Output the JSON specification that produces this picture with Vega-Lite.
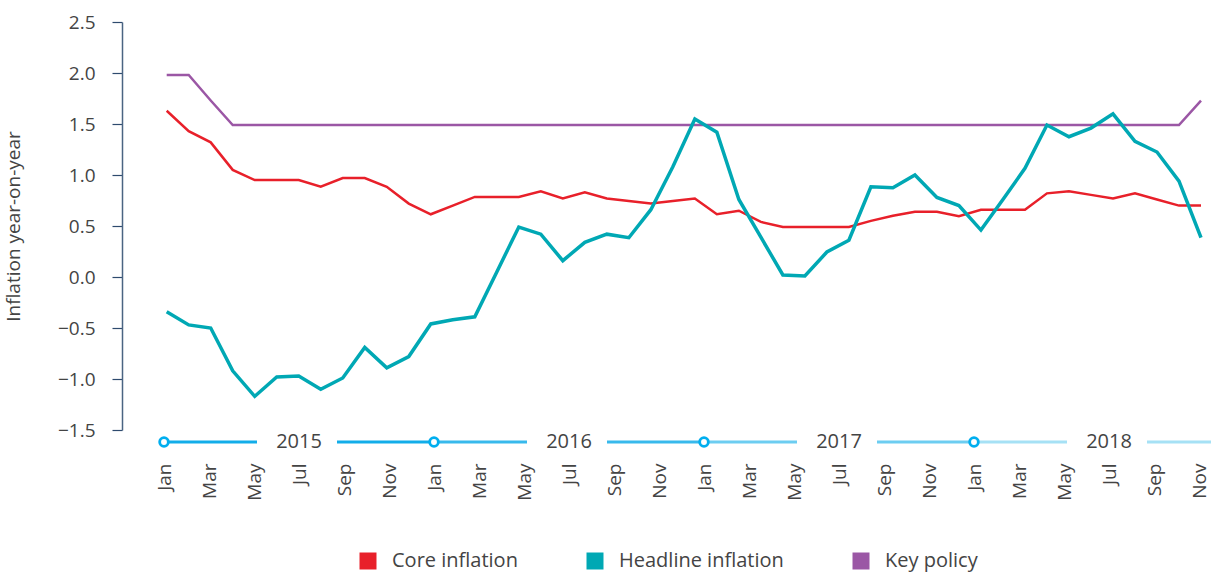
{
  "$schema": "https://vega.github.io/schema/vega-lite/v6.json",
  "width": 1089,
  "height": 408,
  "autosize": "none",
  "padding": {"left": 122, "top": 22, "right": 0, "bottom": 144},
  "config": {
    "view": {"stroke": null},
    "font": "Open Sans",
    "axis": {"grid": false}
  },
  "datasets": {
    "series": [
      {"month": "2015-01", "Core inflation": 1.63, "Headline inflation": -0.34, "Key policy": 1.98},
      {"month": "2015-02", "Core inflation": 1.43, "Headline inflation": -0.47, "Key policy": 1.98},
      {"month": "2015-03", "Core inflation": 1.32, "Headline inflation": -0.50, "Key policy": 1.73},
      {"month": "2015-04", "Core inflation": 1.05, "Headline inflation": -0.92, "Key policy": 1.49},
      {"month": "2015-05", "Core inflation": 0.95, "Headline inflation": -1.17, "Key policy": 1.49},
      {"month": "2015-06", "Core inflation": 0.95, "Headline inflation": -0.98, "Key policy": 1.49},
      {"month": "2015-07", "Core inflation": 0.95, "Headline inflation": -0.97, "Key policy": 1.49},
      {"month": "2015-08", "Core inflation": 0.885, "Headline inflation": -1.10, "Key policy": 1.49},
      {"month": "2015-09", "Core inflation": 0.97, "Headline inflation": -0.99, "Key policy": 1.49},
      {"month": "2015-10", "Core inflation": 0.97, "Headline inflation": -0.69, "Key policy": 1.49},
      {"month": "2015-11", "Core inflation": 0.885, "Headline inflation": -0.89, "Key policy": 1.49},
      {"month": "2015-12", "Core inflation": 0.72, "Headline inflation": -0.78, "Key policy": 1.49},
      {"month": "2016-01", "Core inflation": 0.615, "Headline inflation": -0.46, "Key policy": 1.49},
      {"month": "2016-02", "Core inflation": 0.70, "Headline inflation": -0.42, "Key policy": 1.49},
      {"month": "2016-03", "Core inflation": 0.785, "Headline inflation": -0.39, "Key policy": 1.49},
      {"month": "2016-04", "Core inflation": 0.785, "Headline inflation": 0.05, "Key policy": 1.49},
      {"month": "2016-05", "Core inflation": 0.785, "Headline inflation": 0.49, "Key policy": 1.49},
      {"month": "2016-06", "Core inflation": 0.84, "Headline inflation": 0.42, "Key policy": 1.49},
      {"month": "2016-07", "Core inflation": 0.77, "Headline inflation": 0.16, "Key policy": 1.49},
      {"month": "2016-08", "Core inflation": 0.83, "Headline inflation": 0.34, "Key policy": 1.49},
      {"month": "2016-09", "Core inflation": 0.77, "Headline inflation": 0.42, "Key policy": 1.49},
      {"month": "2016-10", "Core inflation": 0.745, "Headline inflation": 0.385, "Key policy": 1.49},
      {"month": "2016-11", "Core inflation": 0.72, "Headline inflation": 0.66, "Key policy": 1.49},
      {"month": "2016-12", "Core inflation": 0.745, "Headline inflation": 1.08, "Key policy": 1.49},
      {"month": "2017-01", "Core inflation": 0.77, "Headline inflation": 1.55, "Key policy": 1.49},
      {"month": "2017-02", "Core inflation": 0.615, "Headline inflation": 1.42, "Key policy": 1.49},
      {"month": "2017-03", "Core inflation": 0.65, "Headline inflation": 0.76, "Key policy": 1.49},
      {"month": "2017-04", "Core inflation": 0.54, "Headline inflation": 0.39, "Key policy": 1.49},
      {"month": "2017-05", "Core inflation": 0.49, "Headline inflation": 0.02, "Key policy": 1.49},
      {"month": "2017-06", "Core inflation": 0.49, "Headline inflation": 0.01, "Key policy": 1.49},
      {"month": "2017-07", "Core inflation": 0.49, "Headline inflation": 0.245, "Key policy": 1.49},
      {"month": "2017-08", "Core inflation": 0.49, "Headline inflation": 0.36, "Key policy": 1.49},
      {"month": "2017-09", "Core inflation": 0.55, "Headline inflation": 0.885, "Key policy": 1.49},
      {"month": "2017-10", "Core inflation": 0.60, "Headline inflation": 0.875, "Key policy": 1.49},
      {"month": "2017-11", "Core inflation": 0.64, "Headline inflation": 1.0, "Key policy": 1.49},
      {"month": "2017-12", "Core inflation": 0.64, "Headline inflation": 0.78, "Key policy": 1.49},
      {"month": "2018-01", "Core inflation": 0.595, "Headline inflation": 0.70, "Key policy": 1.49},
      {"month": "2018-02", "Core inflation": 0.66, "Headline inflation": 0.46, "Key policy": 1.49},
      {"month": "2018-03", "Core inflation": 0.66, "Headline inflation": 0.76, "Key policy": 1.49},
      {"month": "2018-04", "Core inflation": 0.66, "Headline inflation": 1.065, "Key policy": 1.49},
      {"month": "2018-05", "Core inflation": 0.82, "Headline inflation": 1.49, "Key policy": 1.49},
      {"month": "2018-06", "Core inflation": 0.84, "Headline inflation": 1.375, "Key policy": 1.49},
      {"month": "2018-07", "Core inflation": 0.805, "Headline inflation": 1.46, "Key policy": 1.49},
      {"month": "2018-08", "Core inflation": 0.77, "Headline inflation": 1.60, "Key policy": 1.49},
      {"month": "2018-09", "Core inflation": 0.82, "Headline inflation": 1.33, "Key policy": 1.49},
      {"month": "2018-10", "Core inflation": 0.76, "Headline inflation": 1.225, "Key policy": 1.49},
      {"month": "2018-11", "Core inflation": 0.70, "Headline inflation": 0.94, "Key policy": 1.49},
      {"month": "2018-12", "Core inflation": 0.70, "Headline inflation": 0.385, "Key policy": 1.73}
    ],
    "ticks": [
      {"key": "2015-01"}, {"key": "2015-03"}, {"key": "2015-05"}, {"key": "2015-07"}, {"key": "2015-09"}, {"key": "2015-11"},
      {"key": "2016-01"}, {"key": "2016-03"}, {"key": "2016-05"}, {"key": "2016-07"}, {"key": "2016-09"}, {"key": "2016-11"},
      {"key": "2017-01"}, {"key": "2017-03"}, {"key": "2017-05"}, {"key": "2017-07"}, {"key": "2017-09"}, {"key": "2017-11"},
      {"key": "2018-01"}, {"key": "2018-03"}, {"key": "2018-05"}, {"key": "2018-07"}, {"key": "2018-09"}, {"key": "2018-11"}
    ],
    "years": [
      {"year": "2015", "start": "2015-01", "mid": "2015-07", "end": "2016-01"},
      {"year": "2016", "start": "2016-01", "mid": "2016-07", "end": "2017-01"},
      {"year": "2017", "start": "2017-01", "mid": "2017-07", "end": "2018-01"},
      {"year": "2018", "start": "2018-01", "mid": "2018-07", "end": "2018-11"}
    ]
  },
  "resolve": {"scale": {"x": "independent"}},
  "layer": [
    {
      "data": {"name": "series"},
      "transform": [{"fold": ["Core inflation", "Headline inflation", "Key policy"], "as": ["series", "value"]}],
      "layer": [
        {
          "transform": [{"filter": "datum.series !== 'Headline inflation'"}],
          "mark": {"type": "line", "strokeWidth": 2.5},
          "encoding": {
            "x": {"field": "month", "type": "nominal", "scale": {"type": "point", "padding": 0, "range": [44.7, 1079]}, "axis": null},
            "y": {
              "field": "value", "type": "quantitative",
              "scale": {"domain": [-1.5, 2.5], "nice": false, "zero": false},
              "axis": {
                "values": [-1.5, -1, -0.5, 0, 0.5, 1, 1.5, 2, 2.5],
                "format": ".1f",
                "domainColor": "#4a6482", "domainWidth": 1.5,
                "tickColor": "#2e4a6e", "tickSize": 10, "tickWidth": 1.2,
                "labelFontSize": 19, "labelColor": "#444444", "labelPadding": 17,
                "title": "Inflation year-on-year", "titleFontSize": 19, "titleFontWeight": "normal",
                "titleColor": "#444444", "titlePadding": 34
              }
            },
            "color": {
              "field": "series", "type": "nominal",
              "scale": {"domain": ["Core inflation", "Headline inflation", "Key policy"], "range": ["#e8202a", "#00a8b4", "#9b57a5"]},
              "legend": {
                "orient": "none", "legendX": 236, "legendY": 529, "direction": "horizontal",
                "title": null, "symbolType": "square", "symbolSize": 289, "labelLimit": 400,
                "labelFontSize": 20, "labelColor": "#444444", "labelOffset": 14, "columnPadding": 67,
                "encode": {"symbols": {"update": {"fill": {"scale": "color", "field": "value"}, "strokeWidth": {"value": 0}}}}
              }
            }
          }
        },
        {
          "transform": [{"filter": "datum.series === 'Headline inflation'"}],
          "mark": {"type": "line", "strokeWidth": 3.5},
          "encoding": {
            "x": {"field": "month", "type": "nominal", "scale": {"type": "point", "padding": 0, "range": [44.7, 1079]}, "axis": null},
            "y": {"field": "value", "type": "quantitative"},
            "color": {"field": "series", "type": "nominal"}
          }
        }
      ]
    },
    {
      "layer": [
        {
          "data": {"name": "ticks"},
          "mark": {"type": "rule", "opacity": 0},
          "encoding": {
            "x": {
              "field": "key", "type": "nominal",
              "scale": {"type": "point", "padding": 0, "range": [42, 1077]},
              "axis": {
                "orient": "bottom", "title": null, "domain": false, "ticks": false,
                "labelAngle": -90, "labelAlign": "right", "labelBaseline": "middle",
                "labelPadding": 33, "labelFontSize": 19, "labelColor": "#444444", "labelOverlap": false,
                "labelExpr": "['Jan','Feb','Mar','Apr','May','Jun','Jul','Aug','Sep','Oct','Nov','Dec'][toNumber(slice(datum.value,5,7))-1]"
              }
            },
            "y": {"datum": -1.5, "type": "quantitative"}
          }
        },
        {
          "data": {"name": "years"},
          "mark": {"type": "rule", "strokeWidth": 3, "yOffset": 12, "x2Offset": -42},
          "encoding": {
            "x": {"field": "start", "type": "nominal"},
            "x2": {"field": "mid"},
            "y": {"datum": -1.5, "type": "quantitative"},
            "stroke": {"field": "year", "type": "nominal", "scale": {"domain": ["2015", "2016", "2017", "2018"], "range": ["#12ade9", "#38b9ec", "#6ccdf1", "#a6e1f5"]}, "legend": null}
          }
        },
        {
          "data": {"name": "years"},
          "transform": [{"filter": "datum.year !== '2018'"}],
          "mark": {"type": "rule", "strokeWidth": 3, "yOffset": 12, "xOffset": 38},
          "encoding": {
            "x": {"field": "mid", "type": "nominal"},
            "x2": {"field": "end"},
            "y": {"datum": -1.5, "type": "quantitative"},
            "stroke": {"field": "year", "type": "nominal", "legend": null}
          }
        },
        {
          "data": {"name": "years"},
          "transform": [{"filter": "datum.year === '2018'"}],
          "mark": {"type": "rule", "strokeWidth": 3, "yOffset": 12, "xOffset": 38, "x2Offset": 12},
          "encoding": {
            "x": {"field": "mid", "type": "nominal"},
            "x2": {"field": "end"},
            "y": {"datum": -1.5, "type": "quantitative"},
            "stroke": {"field": "year", "type": "nominal", "legend": null}
          }
        },
        {
          "data": {"name": "years"},
          "mark": {"type": "point", "shape": "circle", "filled": true, "fill": "white", "stroke": "#00aeef", "strokeWidth": 2.8, "size": 75, "opacity": 1, "yOffset": 12},
          "encoding": {
            "x": {"field": "start", "type": "nominal"},
            "y": {"datum": -1.5, "type": "quantitative"}
          }
        },
        {
          "data": {"name": "years"},
          "mark": {"type": "text", "fontSize": 20, "color": "#444444", "baseline": "middle", "align": "center", "yOffset": 12},
          "encoding": {
            "x": {"field": "mid", "type": "nominal"},
            "y": {"datum": -1.5, "type": "quantitative"},
            "text": {"field": "year"}
          }
        }
      ]
    }
  ]
}
